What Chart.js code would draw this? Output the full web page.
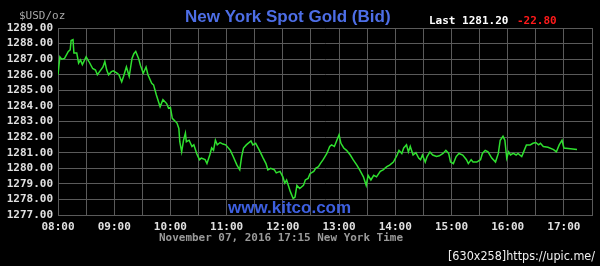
<!DOCTYPE html>
<html>
<head>
<meta charset="utf-8">
<title>New York Spot Gold (Bid)</title>
<script src="https://cdn.jsdelivr.net/npm/chart.js@4/dist/chart.umd.min.js"></script>
<style>
    html, body { margin: 0; padding: 0; background: #000; }
    #wrap { width: 600px; height: 266px; }
</style>
</head>
<body>
<div id="wrap"><canvas id="goldChart" width="600" height="266"></canvas></div>
<script>
// time of each quote (New York time) and bid price in $USD/oz
const times = [
    "08:00", "08:02", "08:04", "08:07", "08:11", "08:13", "08:14", "08:16", "08:17", "08:20",
    "08:22", "08:24", "08:26", "08:30", "08:33", "08:37", "08:40", "08:42", "08:45", "08:48",
    "08:50", "08:52", "08:54", "08:57", "08:59", "09:03", "09:05", "09:08", "09:10", "09:13",
    "09:16", "09:19", "09:21", "09:23", "09:26", "09:28", "09:31", "09:34", "09:36", "09:40",
    "09:42", "09:45", "09:49", "09:52", "09:56", "09:58", "10:00", "10:02", "10:07", "10:09",
    "10:10", "10:12", "10:14", "10:16", "10:17", "10:20", "10:23", "10:25", "10:28", "10:31",
    "10:33", "10:37", "10:39", "10:42", "10:44", "10:46", "10:48", "10:50", "10:53", "10:56",
    "10:59", "11:04", "11:07", "11:11", "11:14", "11:16", "11:18", "11:21", "11:26", "11:28",
    "11:31", "11:35", "11:39", "11:42", "11:44", "11:47", "11:51", "11:53", "11:57", "12:00",
    "12:02", "12:04", "12:08", "12:11", "12:13", "12:15", "12:18", "12:22", "12:24", "12:27",
    "12:29", "12:33", "12:35", "12:38", "12:40", "12:43", "12:47", "12:50", "12:52", "12:55",
    "12:57", "13:00", "13:02", "13:05", "13:08", "13:12", "13:15", "13:19", "13:22", "13:26",
    "13:29", "13:31", "13:34", "13:37", "13:40", "13:44", "13:47", "13:51", "13:54", "13:58",
    "14:02", "14:04", "14:07", "14:09", "14:12", "14:14", "14:16", "14:19", "14:22", "14:25",
    "14:27", "14:29", "14:32", "14:34", "14:37", "14:40", "14:44", "14:47", "14:51", "14:54",
    "14:57", "14:59", "15:02", "15:05", "15:08", "15:12", "15:16", "15:18", "15:21", "15:23",
    "15:27", "15:31", "15:33", "15:36", "15:39", "15:43", "15:47", "15:50", "15:52", "15:55",
    "15:57", "15:59", "16:01", "16:03", "16:06", "16:09", "16:11", "16:15", "16:17", "16:20",
    "16:24", "16:27", "16:30", "16:33", "16:35", "16:38", "16:43", "16:49", "16:52", "16:55",
    "16:58", "17:00", "17:07", "17:14"
];

const prices = [
    1286.00, 1287.15, 1287.00, 1287.05, 1287.50, 1287.60, 1288.20, 1288.25, 1287.40, 1287.40,
    1286.75, 1286.95, 1286.65, 1287.15, 1286.85, 1286.40, 1286.30, 1286.00, 1286.25, 1286.50,
    1286.85, 1286.30, 1286.00, 1286.20, 1286.25, 1286.10, 1286.00, 1285.55, 1285.90, 1286.50,
    1285.90, 1287.05, 1287.35, 1287.50, 1287.05, 1286.60, 1286.10, 1286.50, 1286.00, 1285.45,
    1285.35, 1284.70, 1283.95, 1284.40, 1284.15, 1283.85, 1283.90, 1283.20, 1282.90, 1282.55,
    1281.70, 1281.05, 1281.80, 1282.25, 1281.70, 1281.80, 1281.40, 1281.50, 1280.95, 1280.55,
    1280.65, 1280.55, 1280.30, 1280.85, 1281.30, 1281.15, 1281.80, 1281.50, 1281.65, 1281.55,
    1281.50, 1281.15, 1280.75, 1280.20, 1279.90, 1280.75, 1281.30, 1281.50, 1281.75, 1281.50,
    1281.60, 1281.15, 1280.65, 1280.30, 1279.90, 1280.00, 1279.90, 1279.70, 1279.80, 1279.45,
    1279.05, 1279.25, 1278.50, 1278.05, 1278.15, 1278.90, 1278.70, 1278.90, 1279.25, 1279.35,
    1279.65, 1279.80, 1280.00, 1280.10, 1280.30, 1280.55, 1280.95, 1281.40, 1281.50, 1281.40,
    1281.70, 1282.15, 1281.60, 1281.30, 1281.15, 1280.85, 1280.55, 1280.20, 1279.90, 1279.45,
    1278.90, 1279.55, 1279.25, 1279.55, 1279.45, 1279.80, 1279.90, 1280.10, 1280.20, 1280.40,
    1280.85, 1281.15, 1280.95, 1281.30, 1281.50, 1281.05, 1281.40, 1280.85, 1281.00, 1280.65,
    1280.55, 1280.85, 1280.40, 1280.75, 1281.05, 1280.85, 1280.75, 1280.80, 1280.95, 1281.15,
    1280.95, 1280.40, 1280.30, 1280.75, 1280.95, 1280.85, 1280.55, 1280.30, 1280.55, 1280.40,
    1280.40, 1280.55, 1280.95, 1281.15, 1281.05, 1280.65, 1280.40, 1280.95, 1281.80, 1282.05,
    1281.80, 1280.65, 1281.05, 1280.85, 1280.95, 1280.85, 1280.95, 1280.75, 1281.05, 1281.50,
    1281.50, 1281.60, 1281.65, 1281.50, 1281.60, 1281.40, 1281.35, 1281.20, 1281.05, 1281.50,
    1281.80, 1281.30, 1281.25, 1281.20
];

const xTickLabels = ["08:00", "09:00", "10:00", "11:00", "12:00", "13:00", "14:00", "15:00", "16:00", "17:00"];
const yMin = 1277;
const yMax = 1289;

const lastPrice = "1281.20";
const change = "-22.80";
const dateLine = "November 07, 2016 17:15 New York Time";

const START_MIN = 8 * 60;
const END_MIN = 17 * 60 + 30;

function toMinutes(t) {
    const parts = t.split(":");
    return parseInt(parts[0]) * 60 + parseInt(parts[1]) - START_MIN;
}

const points = times.map((t, i) => ({ x: toMinutes(t), y: prices[i] }));

const MONO = "'DejaVu Sans Mono', 'Liberation Mono', monospace";

// extra texts around the plot: title, last price, watermarks
const textPlugin = {
    id: "kitcoText",
    afterDraw(chart) {
        const ctx = chart.ctx;
        ctx.save();
        ctx.textBaseline = "alphabetic";

        ctx.font = "11px " + MONO;
        ctx.fillStyle = "#a8a8a8";
        ctx.textAlign = "left";
        ctx.fillText("$USD/oz", 19, 19);

        ctx.font = "bold 17px 'Liberation Sans', Arial, sans-serif";
        ctx.fillStyle = "#4d6ee6";
        ctx.textAlign = "left";
        ctx.fillText("New York Spot Gold (Bid)", 185, 22, 212);

        ctx.font = "bold 11px " + MONO;
        ctx.fillStyle = "#ffffff";
        ctx.fillText("Last " + lastPrice, 429, 24);
        ctx.fillStyle = "#ff1a1a";
        ctx.fillText(change, 517, 24);

        ctx.font = "bold 17px 'Liberation Sans', Arial, sans-serif";
        ctx.fillStyle = "#3d5fe0";
        ctx.fillText("www.kitco.com", 228, 213, 125);

        ctx.font = "bold 11px " + MONO;
        ctx.fillStyle = "#9a9a9a";
        ctx.fillText(dateLine, 159, 241, 244);

        ctx.font = "12px 'DejaVu Sans', sans-serif";
        ctx.fillStyle = "#f0f0f0";
        ctx.fillText("[630x258]https://upic.me/", 448, 260, 147);

        ctx.restore();
    }
};

new Chart(document.getElementById("goldChart").getContext("2d"), {
    type: "line",
    data: {
        datasets: [{
            label: "Bid",
            data: points,
            borderColor: "#2fe02f",
            borderWidth: 1.5,
            pointRadius: 0,
            tension: 0,
            fill: false
        }]
    },
    options: {
        responsive: false,
        animation: false,
        layout: { padding: { top: 28, right: 8, left: 0, bottom: 0 } },
        plugins: {
            legend: { display: false },
            tooltip: { enabled: false }
        },
        scales: {
            x: {
                type: "linear",
                min: 0,
                max: END_MIN - START_MIN,
                afterFit: (scale) => { scale.height = 51; },
                grid: { color: "#5a5a5a", lineWidth: 1, drawTicks: false },
                border: { color: "#5a5a5a" },
                ticks: {
                    stepSize: 30,
                    autoSkip: false,
                    maxRotation: 0,
                    padding: 6,
                    color: "#e0e0e0",
                    font: { family: MONO, size: 11, weight: "bold" },
                    callback: (v) => (v % 60 === 0 ? xTickLabels[v / 60] : "")
                }
            },
            y: {
                min: yMin,
                max: yMax,
                afterFit: (scale) => { scale.width = 58; },
                grid: { color: "#5a5a5a", lineWidth: 1, drawTicks: false },
                border: { color: "#5a5a5a" },
                ticks: {
                    stepSize: 1,
                    autoSkip: false,
                    padding: 5,
                    color: "#e0e0e0",
                    font: { family: MONO, size: 11, weight: "bold" },
                    callback: (v) => v.toFixed(2)
                }
            }
        }
    },
    plugins: [textPlugin]
});
</script>
</body>
</html>
